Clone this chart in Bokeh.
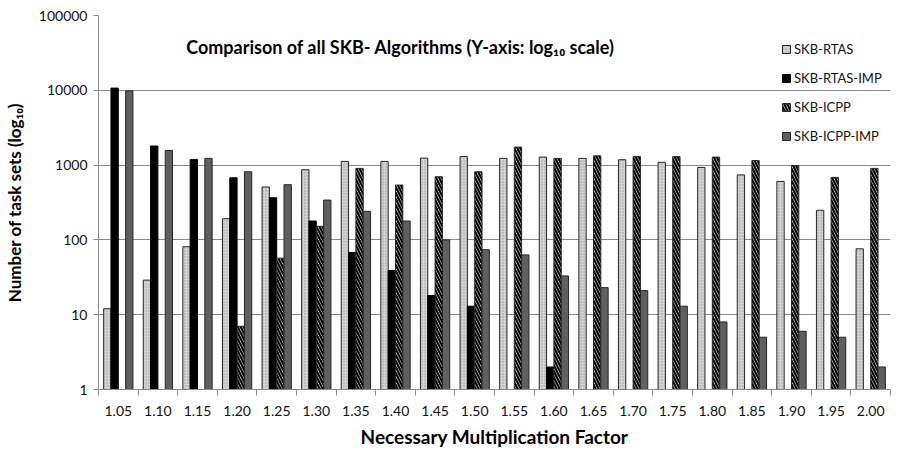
import math
from bokeh.plotting import figure
from bokeh.models import (ColumnDataSource, Range1d, LinearAxis, CustomLabelingPolicy,
                          FixedTicker, PrintfTickFormatter, Legend, LegendItem, Label)
from bokeh.transform import dodge
from bokeh.embed import file_html
from bokeh.resources import INLINE

nan = float("nan")

categories = ["1.05", "1.10", "1.15", "1.20", "1.25", "1.30", "1.35", "1.40", "1.45", "1.50",
              "1.55", "1.60", "1.65", "1.70", "1.75", "1.80", "1.85", "1.90", "1.95", "2.00"]
skb_rtas = [12, 29, 81, 192, 509, 866, 1120, 1120, 1240, 1300,
            1230, 1280, 1230, 1180, 1090, 930, 740, 606, 249, 76]
skb_rtas_imp = [10700, 1800, 1190, 677, 366, 179, 68, 39, 18, 13,
                nan, 2, nan, nan, nan, nan, nan, nan, nan, nan]
skb_icpp = [nan, nan, nan, 7, 57, 152, 903, 541, 699, 815,
            1740, 1230, 1330, 1300, 1300, 1280, 1150, 990, 685, 903]
skb_icpp_imp = [9800, 1570, 1230, 815, 547, 341, 241, 179, 100, 74,
                63, 33, 23, 21, 13, 8, 5, 6, 5, 2]
y_ticks = [1, 10, 100, 1000, 10000, 100000]

FONT = "Lato"

n = len(categories)
centers = [i + 0.5 for i in range(n)]
source = ColumnDataSource(dict(cat=categories, xc=centers, rtas=skb_rtas, rtas_imp=skb_rtas_imp,
                               icpp=skb_icpp, icpp_imp=skb_icpp_imp))

p = figure(width=900, height=450, x_range=Range1d(0, n),
           y_axis_type="log", y_range=Range1d(1, 100000),
           output_backend="svg", toolbar_location=None, x_axis_location=None,
           min_border_left=98, min_border_right=10, min_border_top=15, min_border_bottom=60)
p.outline_line_color = None
p.xgrid.grid_line_color = None
p.ygrid.grid_line_color = "#8a8a8a"
p.ygrid.ticker = FixedTicker(ticks=y_ticks)

# y axis
ya = p.yaxis[0]
ya.ticker = FixedTicker(ticks=y_ticks, minor_ticks=[])
ya.formatter = PrintfTickFormatter(format="%d")
ya.axis_line_color = "#8a8a8a"
ya.major_tick_line_color = "#8a8a8a"
ya.major_tick_in = 0
ya.major_tick_out = 5
ya.minor_tick_line_color = None
ya.major_label_standoff = 6
ya.major_label_text_font = FONT
ya.major_label_text_font_size = "14px"
ya.major_label_text_color = "#111111"
ya.axis_label = "Number of task sets (log₁₀)"
ya.axis_label_text_font = FONT
ya.axis_label_text_font_style = "bold"
ya.axis_label_text_font_size = "17px"
ya.axis_label_text_color = "#000000"
ya.axis_label_standoff = 11

# boundary tick axis (tick marks only, no labels)
tick_axis = LinearAxis(ticker=FixedTicker(ticks=list(range(n + 1)), minor_ticks=[]),
                       major_label_policy=CustomLabelingPolicy(code="return []"),
                       major_label_text_font_size="0px", major_label_standoff=0,
                       axis_line_color="#8a8a8a", major_tick_line_color="#8a8a8a",
                       major_tick_in=0, major_tick_out=6, minor_tick_line_color=None)
p.add_layout(tick_axis, "below")

cat_axis = LinearAxis(ticker=FixedTicker(ticks=centers, minor_ticks=[]),
                      major_label_overrides={c: lab for c, lab in zip(centers, categories)},
                      axis_line_color=None, major_tick_line_color=None, minor_tick_line_color=None,
                      major_label_text_font=FONT, major_label_text_font_size="14px",
                      major_label_text_color="#111111", major_label_standoff=4,
                      axis_label="Necessary Multiplication Factor", axis_label_text_font=FONT,
                      axis_label_text_font_style="bold", axis_label_text_font_size="19px",
                      axis_label_text_color="#000000", axis_label_standoff=6)
p.add_layout(cat_axis, "below")

w = 0.185
offs = [-1.5 * w, -0.5 * w, 0.5 * w, 1.5 * w]
outline = "#262626"

r1 = p.vbar(x=dodge("xc", offs[0]), top="rtas", bottom=1, width=w, source=source,
            fill_color="#d4d4d4", hatch_pattern="dot", hatch_color="#9a9a9a", hatch_scale=3, hatch_weight=1,
            line_color=outline, line_width=1)
r2 = p.vbar(x=dodge("xc", offs[1]), top="rtas_imp", bottom=1, width=w, source=source,
            fill_color="#000000", line_color="#000000", line_width=1)
r3 = p.vbar(x=dodge("xc", offs[2]), top="icpp", bottom=1, width=w, source=source,
            fill_color="#ffffff", hatch_pattern="left_diagonal_line", hatch_color="#000000",
            hatch_scale=6, hatch_weight=2.2, line_color=outline, line_width=1)
r4 = p.vbar(x=dodge("xc", offs[3]), top="icpp_imp", bottom=1, width=w, source=source,
            fill_color="#5f5f5f", line_color=outline, line_width=1)

legend = Legend(items=[LegendItem(label="SKB-RTAS", renderers=[r1]),
                       LegendItem(label="SKB-RTAS-IMP", renderers=[r2]),
                       LegendItem(label="SKB-ICPP", renderers=[r3]),
                       LegendItem(label="SKB-ICPP-IMP", renderers=[r4])],
                location=(683, 243), glyph_width=10, glyph_height=10, label_height=20, spacing=9,
                padding=0, margin=0, label_standoff=3, border_line_color=None, background_fill_alpha=0,
                label_text_font=FONT, label_text_font_size="13px", label_text_color="#111111")
p.add_layout(legend, "center")

title = Label(x=302, y=343, x_units="screen", y_units="screen",
              text="Comparison of all SKB- Algorithms (Y-axis: log₁₀ scale)",
              text_font=FONT, text_font_style="bold", text_font_size="18px",
              text_align="center", text_baseline="middle", text_color="#000000")
p.add_layout(title)

open("out.html", "w").write(file_html(p, INLINE))
